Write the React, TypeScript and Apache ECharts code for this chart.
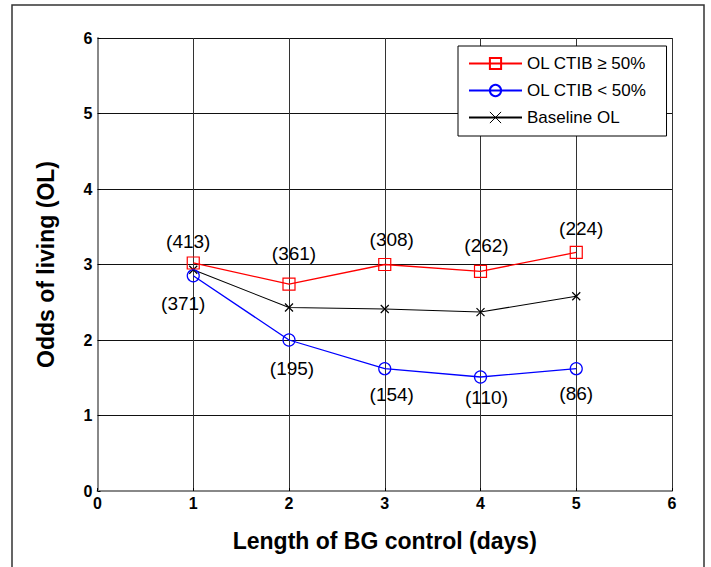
import React, { useEffect, useRef } from "react";
import * as echarts from "echarts";

const days = [1, 2, 3, 4, 5];
const olHigh = [3.02, 2.74, 3.0, 2.91, 3.16];
const olLow = [2.85, 2.0, 1.62, 1.51, 1.62];
const olBaseline = [2.93, 2.43, 2.41, 2.37, 2.58];
const nHigh = [413, 361, 308, 262, 224];
const nLow = [371, 195, 154, 110, 86];
const seriesNames = ["OL CTIB \u2265 50%", "OL CTIB < 50%", "Baseline OL"];
const xTitle = "Length of BG control (days)";
const yTitle = "Odds of living (OL)";

const highLabelOffsets = [[-5, -21], [5, -31], [7, -25], [6, -26], [5, -24]];
const lowLabelOffsets = [[-10, 28], [3, 28], [7, 26], [6, 21], [0, 25]];

const FONT = "'Liberation Sans', Arial, Helvetica, sans-serif";

export default function App() {
  const ref = useRef<HTMLDivElement>(null);
  useEffect(() => {
    if (!ref.current) return;
    const chart = echarts.init(ref.current, undefined, { renderer: "svg" });
    const labelStyle = {
      show: true,
      position: "inside",
      fontFamily: FONT,
      fontSize: 19,
      color: "#000",
    };
    const option: any = {
      animation: false,
      backgroundColor: "#fff",
      textStyle: { fontFamily: FONT },
      graphic: [
        {
          type: "rect",
          shape: { x: 12, y: 5, width: 692, height: 600 },
          style: { fill: "none", stroke: "#333", lineWidth: 1.5 },
          z: -1,
        },
      ],
      grid: { left: 97.5, top: 38, right: 39, bottom: 76, containLabel: false },
      legend: {
        orient: "vertical",
        left: 458,
        top: 46,
        backgroundColor: "#fff",
        borderColor: "#000",
        borderWidth: 1,
        borderRadius: 0,
        padding: [9, 20, 10, 10],
        itemWidth: 53,
        itemHeight: 14,
        itemGap: 10,
        textStyle: { fontFamily: FONT, fontSize: 17, color: "#000" },
        data: [
          { name: seriesNames[0] },
          { name: seriesNames[1] },
          { name: seriesNames[2], itemStyle: { borderWidth: 1 } },
        ],
      },
      xAxis: {
        type: "value",
        min: 0,
        max: 6,
        interval: 1,
        name: xTitle,
        nameLocation: "middle",
        nameGap: 38,
        nameTextStyle: { fontFamily: FONT, fontSize: 23, fontWeight: "bold", color: "#000" },
        axisLine: { show: true, onZero: false, lineStyle: { color: "#888", width: 2 } },
        axisTick: { show: true, inside: true, length: 3, lineStyle: { color: "#000" } },
        axisLabel: { fontFamily: FONT, fontSize: 16, fontWeight: "bold", color: "#000", margin: 4 },
        splitLine: { show: true, lineStyle: { color: "#333", width: 1 } },
      },
      yAxis: {
        type: "value",
        min: 0,
        max: 6,
        interval: 1,
        name: yTitle,
        nameLocation: "middle",
        nameGap: 40,
        nameTextStyle: { fontFamily: FONT, fontSize: 23, fontWeight: "bold", color: "#000" },
        axisLine: { show: true, onZero: false, lineStyle: { color: "#888", width: 2 } },
        axisTick: { show: true, inside: true, length: 3, lineStyle: { color: "#000" } },
        axisLabel: {
          fontFamily: FONT,
          fontSize: 16,
          fontWeight: "bold",
          color: "#000",
          margin: 5,
          padding: [0, 0, 4, 0],
        },
        splitLine: { show: true, lineStyle: { color: "#111", width: 1 } },
      },
      series: [
        {
          name: seriesNames[0],
          type: "line",
          data: olHigh.map((v, i) => ({
            value: [days[i], v],
            label: { offset: highLabelOffsets[i] },
          })),
          symbol: "rect",
          symbolSize: 12,
          lineStyle: { color: "#ff0000", width: 1.3 },
          itemStyle: { color: "rgba(255,255,255,0)", borderColor: "#ff0000", borderWidth: 1.2 },
          label: { ...labelStyle, formatter: (p: any) => `(${nHigh[p.dataIndex]})` },
          z: 4,
        },
        {
          name: seriesNames[1],
          type: "line",
          data: olLow.map((v, i) => ({
            value: [days[i], v],
            label: { offset: lowLabelOffsets[i] },
          })),
          symbol: "circle",
          symbolSize: 12,
          lineStyle: { color: "#0000ff", width: 1.3 },
          itemStyle: { color: "rgba(255,255,255,0)", borderColor: "#0000ff", borderWidth: 1.2 },
          label: { ...labelStyle, formatter: (p: any) => `(${nLow[p.dataIndex]})` },
          z: 4,
        },
        {
          name: seriesNames[2],
          type: "line",
          data: olBaseline.map((v, i) => [days[i], v]),
          symbol: "path://M3,3L7,7M7,3L3,7",
          symbolSize: 8,
          lineStyle: { color: "#000", width: 1.1 },
          itemStyle: { color: "#000", borderColor: "#000", borderWidth: 1.2 },
          z: 3,
        },
      ],
    };
    chart.setOption(option);
    return () => chart.dispose();
  }, []);
  return (
    <div
      ref={ref}
      style={{ position: "fixed", left: 0, top: 0, width: 711, height: 567 }}
    />
  );
}
